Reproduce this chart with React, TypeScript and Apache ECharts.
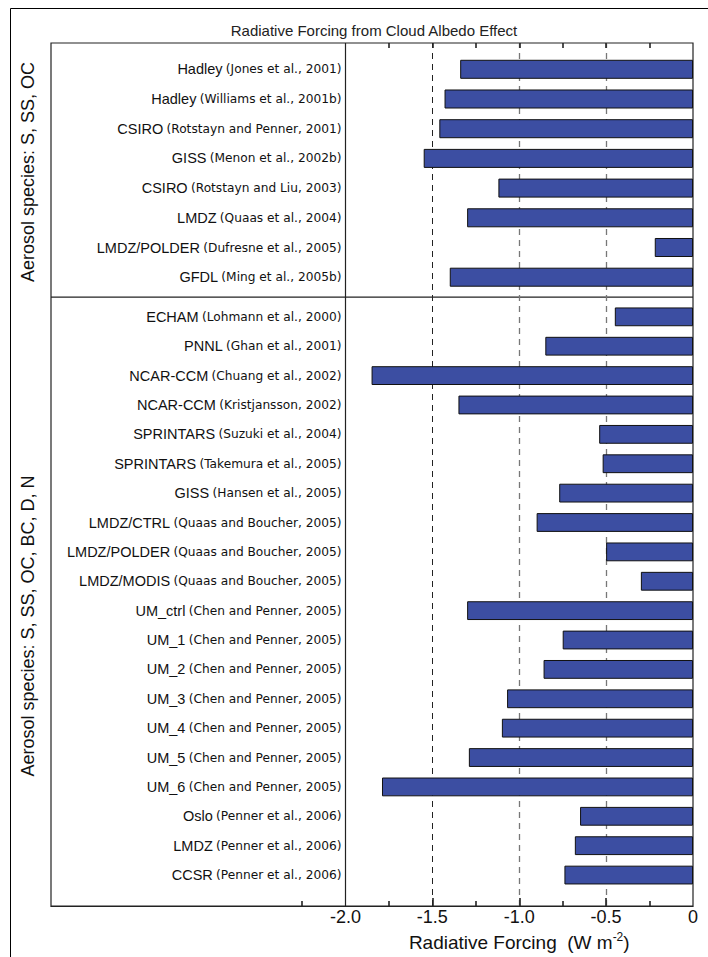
import React, { useEffect, useRef } from "react";
import * as echarts from "echarts";

// ---------- data ----------
const GROUP1_MODELS = ["Hadley", "Hadley", "CSIRO", "GISS", "CSIRO", "LMDZ", "LMDZ/POLDER", "GFDL"];
const GROUP1_REFS = [
  "Jones et al., 2001",
  "Williams et al., 2001b",
  "Rotstayn and Penner, 2001",
  "Menon et al., 2002b",
  "Rotstayn and Liu, 2003",
  "Quaas et al., 2004",
  "Dufresne et al., 2005",
  "Ming et al., 2005b",
];
const GROUP1_VALUES = [-1.34, -1.43, -1.46, -1.55, -1.12, -1.3, -0.22, -1.4];

const GROUP2_MODELS = [
  "ECHAM", "PNNL", "NCAR-CCM", "NCAR-CCM", "SPRINTARS", "SPRINTARS", "GISS",
  "LMDZ/CTRL", "LMDZ/POLDER", "LMDZ/MODIS", "UM_ctrl", "UM_1", "UM_2", "UM_3",
  "UM_4", "UM_5", "UM_6", "Oslo", "LMDZ", "CCSR",
];
const GROUP2_REFS = [
  "Lohmann et al., 2000",
  "Ghan et al., 2001",
  "Chuang et al., 2002",
  "Kristjansson, 2002",
  "Suzuki et al., 2004",
  "Takemura et al., 2005",
  "Hansen et al., 2005",
  "Quaas and Boucher, 2005",
  "Quaas and Boucher, 2005",
  "Quaas and Boucher, 2005",
  "Chen and Penner, 2005",
  "Chen and Penner, 2005",
  "Chen and Penner, 2005",
  "Chen and Penner, 2005",
  "Chen and Penner, 2005",
  "Chen and Penner, 2005",
  "Chen and Penner, 2005",
  "Penner et al., 2006",
  "Penner et al., 2006",
  "Penner et al., 2006",
];
const GROUP2_VALUES = [
  -0.45, -0.85, -1.85, -1.35, -0.54, -0.52, -0.77, -0.9, -0.5, -0.3,
  -1.3, -0.75, -0.86, -1.07, -1.1, -1.29, -1.79, -0.65, -0.68, -0.74,
];

const GROUP1_TITLE = "Aerosol species: S, SS, OC";
const GROUP2_TITLE = "Aerosol species: S, SS, OC, BC, D, N";
const TITLE = "Radiative Forcing from Cloud Albedo Effect";

const X_MIN = -2;
const X_MAX = 0;
const TICK_LABELS = [-2, -1.5, -1, -0.5, 0];
const MAJOR_TICKS = [-1.5, -1, -0.5];
const MINOR_TICKS_BOTTOM = [-2.25, -1.75, -1.25, -0.75, -0.25];
const TOP_TICKS = [-1.75, -1.5, -1.25, -1, -0.75, -0.5, -0.25];
const SOLID_LINES = [-2];
const DASHED_LINES_DARK = [-1.5];
const DASHED_LINES_GRAY = [-1, -0.5];

// ---------- layout ----------
const W = 708;
const H = 957;
const FRAME_L = 51;
const FRAME_T = 43;
const FRAME_R = 693;
const FRAME_B = 906;
const FRAME_H = FRAME_B - FRAME_T;
const PLOT_L = 345.5; // position of x = -2
const ROW = 29.7;
const G1_FIRST = 69.3;
const G2_FIRST = 317;
const G1_TOP = G1_FIRST - ROW / 2;
const G1_H = ROW * GROUP1_VALUES.length;
const G2_TOP = G2_FIRST - ROW / 2;
const G2_H = ROW * GROUP2_VALUES.length;
const DIVIDER_Y = (G1_TOP + G1_H + G2_TOP) / 2;
const OVERLAY_MIN = X_MIN * (FRAME_R - FRAME_L) / (FRAME_R - PLOT_L);
const MINOR_LEN = 5;
const MAJOR_LEN = 8;
const TOP_LEN = 5;

const FONT = "'Liberation Sans', Arial, Helvetica, sans-serif";
const FONT_REF = "'DejaVu Sans', Verdana, sans-serif";
const BAR_COLOR = "#3c4ea2";
const INK = "#111";
const AXIS_INK = "#222";

const labelRich = {
  m: { fontSize: 14.5, color: INK, fontFamily: FONT },
  c: { fontSize: 12.2, color: INK, fontFamily: FONT_REF },
};

function catAxis(gridIndex: number, models: string[], refs: string[]) {
  return {
    type: "category",
    gridIndex,
    inverse: true,
    data: models.map((m, i) => `${m} (${refs[i]})`),
    axisLine: { show: false },
    axisTick: { show: false },
    splitLine: { show: false },
    axisLabel: {
      margin: 4,
      fontSize: 12,
      fontFamily: FONT,
      formatter: (_v: string, i: number) => `{m|${models[i]}} {c|(${refs[i]})}`,
      rich: labelRich,
    },
  };
}

export default function App() {
  const ref = useRef<HTMLDivElement>(null);

  useEffect(() => {
    if (!ref.current) return;
    const chart = echarts.init(ref.current, undefined, { renderer: "svg" });

    const lineStyleFor = (v: number) => {
      if (SOLID_LINES.includes(v)) return { type: "solid", color: AXIS_INK, width: 1.2 };
      if (DASHED_LINES_DARK.includes(v)) return { type: [6, 5], color: AXIS_INK, width: 1 };
      return { type: [6, 5], color: "#777", width: 1.3 };
    };
    const refLines = [...SOLID_LINES, ...DASHED_LINES_DARK, ...DASHED_LINES_GRAY];
    const tickStyle = { type: "solid", color: AXIS_INK, width: 1.6 };
    const seg = (x: number, y0: number, y1: number) => [
      { coord: [x, y0], lineStyle: tickStyle },
      { coord: [x, y1] },
    ];
    const tickSegments = [
      ...MINOR_TICKS_BOTTOM.map((x) => seg(x, 0, MINOR_LEN)),
      ...MAJOR_TICKS.map((x) => seg(x, 0, MAJOR_LEN)),
      ...TOP_TICKS.map((x) => seg(x, FRAME_H, FRAME_H - TOP_LEN)),
    ];
    const g2Offset = FRAME_B - (G2_TOP + G2_H);

    const option = {
      animation: false,
      backgroundColor: "#fff",
      textStyle: { fontFamily: FONT },
      title: {
        text: TITLE,
        left: (FRAME_L + FRAME_R) / 2 - 3,
        top: 18,
        textAlign: "center",
        textStyle: { fontSize: 15, fontWeight: "normal", color: "#222", fontFamily: FONT },
      },
      grid: [
        {
          left: FRAME_L,
          top: FRAME_T,
          width: FRAME_R - FRAME_L,
          height: FRAME_H,
          show: true,
          borderColor: AXIS_INK,
          borderWidth: 1.2,
          backgroundColor: "transparent",
        },
        { left: PLOT_L, top: G1_TOP, width: FRAME_R - PLOT_L, height: G1_H },
        { left: PLOT_L, top: G2_TOP, width: FRAME_R - PLOT_L, height: G2_H },
      ],
      xAxis: [
        {
          type: "value",
          gridIndex: 0,
          position: "bottom",
          min: OVERLAY_MIN,
          max: X_MAX,
          axisLine: { show: true, onZero: false, lineStyle: { color: AXIS_INK, width: 1.2 } },
          axisTick: { show: false },
          axisLabel: { show: false },
          splitLine: { show: false },
        },
        {
          type: "value",
          gridIndex: 1,
          min: X_MIN,
          max: X_MAX,
          show: false,
        },
        {
          type: "value",
          gridIndex: 2,
          min: X_MIN,
          max: X_MAX,
          position: "bottom",
          offset: g2Offset,
          axisLine: { show: false, onZero: false },
          axisTick: { show: false },
          axisLabel: {
            show: true,
            customValues: TICK_LABELS,
            formatter: (v: number) => (v === 0 ? "0" : v.toFixed(1)),
            fontSize: 18,
            color: INK,
            fontFamily: FONT,
            margin: 8,
          },
          splitLine: { show: false },
          name: "{a|Radiative Forcing  (W m}{s|-2}{a|)}",
          nameLocation: "middle",
          nameGap: 30,
          nameTextStyle: {
            rich: {
              a: { fontSize: 19, color: INK, fontFamily: FONT, lineHeight: 24 },
              s: { fontSize: 12, color: INK, fontFamily: FONT, lineHeight: 24, verticalAlign: "top" },
            },
          },
        },
      ],
      yAxis: [
        { type: "value", gridIndex: 0, min: 0, max: FRAME_H, show: false },
        catAxis(1, GROUP1_MODELS, GROUP1_REFS),
        catAxis(2, GROUP2_MODELS, GROUP2_REFS),
      ],
      graphic: [
        {
          type: "rect",
          silent: true,
          shape: { x: 10.5, y: 8.5, width: 760, height: 1000 },
          style: { fill: "none", stroke: "#000", lineWidth: 1 },
        },
        {
          type: "line",
          silent: true,
          shape: { x1: FRAME_L, y1: DIVIDER_Y, x2: FRAME_R, y2: DIVIDER_Y },
          style: { stroke: AXIS_INK, lineWidth: 1.2 },
        },
        {
          type: "text",
          x: 28,
          y: 172,
          rotation: Math.PI / 2,
          style: {
            text: GROUP1_TITLE,
            fontSize: 18,
            fontFamily: FONT,
            fill: INK,
            align: "center",
            verticalAlign: "middle",
          },
        },
        {
          type: "text",
          x: 28,
          y: 626,
          rotation: Math.PI / 2,
          style: {
            text: GROUP2_TITLE,
            fontSize: 18,
            fontFamily: FONT,
            fill: INK,
            align: "center",
            verticalAlign: "middle",
          },
        },
      ],
      series: [
        {
          type: "line",
          xAxisIndex: 0,
          yAxisIndex: 0,
          data: [],
          silent: true,
          markLine: {
            z: 1,
            silent: true,
            symbol: "none",
            label: { show: false },
            data: [
              ...refLines.map((v) => ({ xAxis: v, lineStyle: lineStyleFor(v) })),
              ...tickSegments,
            ],
          },
        },
        {
          type: "bar",
          xAxisIndex: 1,
          yAxisIndex: 1,
          z: 3,
          data: GROUP1_VALUES,
          barCategoryGap: "36%",
          itemStyle: { color: BAR_COLOR, borderColor: "#111", borderWidth: 1 },
        },
        {
          type: "bar",
          xAxisIndex: 2,
          yAxisIndex: 2,
          z: 3,
          data: GROUP2_VALUES,
          barCategoryGap: "36%",
          itemStyle: { color: BAR_COLOR, borderColor: "#111", borderWidth: 1 },
        },
      ],
    };

    chart.setOption(option as any);
    return () => chart.dispose();
  }, []);

  return (
    <div
      ref={ref}
      style={{ position: "absolute", left: 0, top: 0, width: W, height: H }}
    />
  );
}
